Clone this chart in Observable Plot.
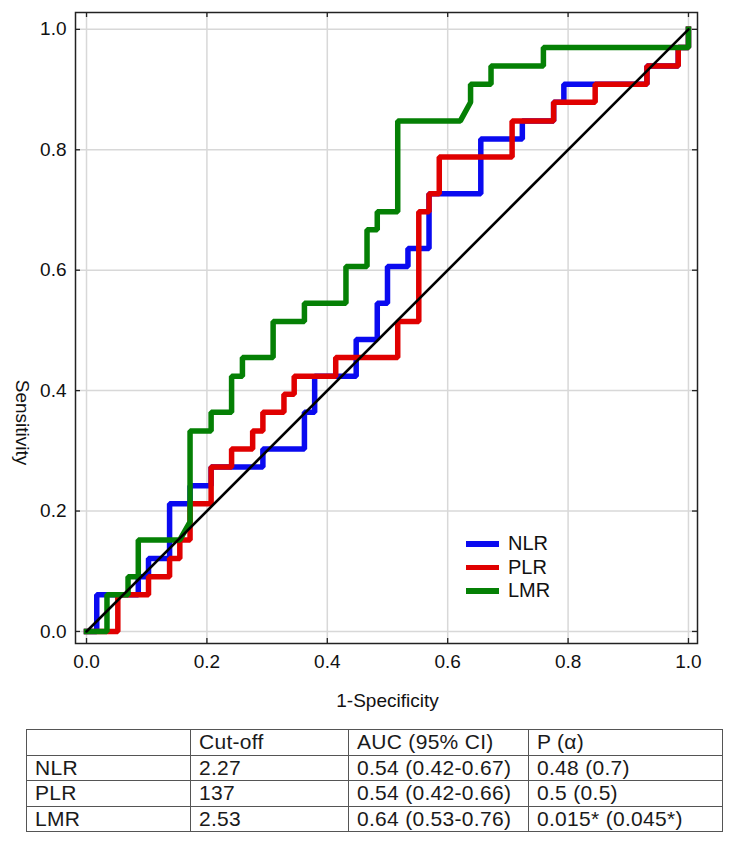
<!DOCTYPE html>
<html>
<head>
<meta charset="utf-8">
<script src="https://cdn.jsdelivr.net/npm/d3@7"></script>
<script src="https://cdn.jsdelivr.net/npm/@observablehq/plot@0.6"></script>
<style>
  html, body { margin: 0; padding: 0; background: #fff; }
  body { font-family: Arial, "Liberation Sans", sans-serif; }
  #wrap { position: relative; width: 736px; height: 844px; overflow: hidden; }
  #chart { position: absolute; left: 0; top: 0; }
  #legend { position: absolute; left: 466px; top: 532px; font-size: 20px; color: #111; }
  #legend .row { display: flex; align-items: center; height: 23.5px; }
  #legend .sw { width: 33px; height: 5.5px; margin-right: 9px; }
  #tbl { position: absolute; left: 26px; top: 729px; border-collapse: collapse; width: 696px;
         font-size: 21px; letter-spacing: 0.3px; color: #1a1a1a; table-layout: fixed; }
  #tbl td { border: 1px solid #555; height: 24.6px; padding: 0 0 0 8px; line-height: 22px; white-space: nowrap; overflow: visible; }
</style>
</head>
<body>
<div id="wrap">
  <div id="chart"></div>
  <div id="legend"></div>
  <table id="tbl"></table>
</div>
<script>
// ---- ROC curve vertices (1-Specificity, Sensitivity) ----
const nlrFpr = [0,0.017,0.017,0.086,0.086,0.103,0.103,0.138,0.138,0.172,0.172,0.207,0.207,0.293,0.293,0.362,0.362,0.379,0.379,0.448,0.448,0.483,0.483,0.5,0.5,0.534,0.534,0.569,0.569,0.655,0.655,0.724,0.724,0.776,0.776,0.793,0.793,0.931,0.931,0.983,0.983,1,1];
const nlrTpr = [0,0,0.061,0.061,0.091,0.091,0.121,0.121,0.212,0.212,0.242,0.242,0.273,0.273,0.303,0.303,0.364,0.364,0.424,0.424,0.485,0.485,0.545,0.545,0.606,0.606,0.636,0.636,0.727,0.727,0.818,0.818,0.848,0.848,0.879,0.879,0.909,0.909,0.939,0.939,0.970,0.970,1];

const plrFpr = [0,0.052,0.052,0.103,0.103,0.138,0.138,0.155,0.155,0.172,0.172,0.207,0.207,0.241,0.241,0.276,0.276,0.293,0.293,0.328,0.328,0.345,0.345,0.414,0.414,0.517,0.517,0.552,0.552,0.569,0.569,0.586,0.586,0.707,0.707,0.776,0.776,0.845,0.845,0.931,0.931,0.983,0.983,1,1];
const plrTpr = [0,0,0.061,0.061,0.091,0.091,0.121,0.121,0.152,0.152,0.212,0.212,0.273,0.273,0.303,0.303,0.333,0.333,0.364,0.364,0.394,0.394,0.424,0.424,0.455,0.455,0.515,0.515,0.697,0.697,0.727,0.727,0.788,0.788,0.848,0.848,0.879,0.879,0.909,0.909,0.939,0.939,0.970,0.970,1];

const lmrFpr = [0,0.034,0.034,0.069,0.069,0.086,0.086,0.155,0.172,0.172,0.207,0.207,0.241,0.241,0.259,0.259,0.310,0.310,0.362,0.362,0.431,0.431,0.466,0.466,0.483,0.483,0.517,0.517,0.621,0.638,0.638,0.672,0.672,0.759,0.759,1,1];
const lmrTpr = [0,0,0.061,0.061,0.091,0.091,0.152,0.152,0.182,0.333,0.333,0.364,0.364,0.424,0.424,0.455,0.455,0.515,0.515,0.545,0.545,0.606,0.606,0.667,0.667,0.697,0.697,0.848,0.848,0.879,0.909,0.909,0.939,0.939,0.970,0.970,1];

const refLine = [0, 1];
const seriesNames = ["NLR", "PLR", "LMR"];
const seriesColors = ["#0a0af0", "#e00000", "#058005"];
const axisTicks = [0, 0.2, 0.4, 0.6, 0.8, 1.0];
const xTitle = "1-Specificity";
const yTitle = "Sensitivity";

// ---- table ----
const tableHeader = ["", "Cut-off", "AUC (95% CI)", "P (\u03b1)"];
const cutOffs = ["2.27", "137", "2.53"];
const aucCI = ["0.54 (0.42-0.67)", "0.54 (0.42-0.66)", "0.64 (0.53-0.76)"];
const pValues = ["0.48 (0.7)", "0.5 (0.5)", "0.015* (0.045*)"];

const toPts = (xs, ys) => xs.map((x, i) => ({x, y: ys[i]}));
const curves = [toPts(nlrFpr, nlrTpr), toPts(plrFpr, plrTpr), toPts(lmrFpr, lmrTpr)];

const W = 736, H = 718, mL = 75, mR = 39, mT = 12, mB = 75;
const frameH = H - mT - mB, frameW = W - mL - mR;

const lineStyle = {x: "x", y: "y", strokeWidth: 5.5, strokeLinejoin: "miter", strokeLinecap: "square"};

const chart = Plot.plot({
  width: W, height: H,
  marginLeft: mL, marginRight: mR, marginTop: mT, marginBottom: mB,
  style: {fontFamily: "Arial, 'Liberation Sans', sans-serif", background: "#fff"},
  x: {domain: [-0.0183, 1.015], axis: null},
  y: {domain: [-0.02, 1.028], axis: null},
  marks: [
    Plot.ruleX(axisTicks, {stroke: "#d8d8d8", strokeWidth: 1.5}),
    Plot.ruleY(axisTicks, {stroke: "#d8d8d8", strokeWidth: 1.5}),
    // inward tick marks on all four sides
    Plot.tickX(axisTicks, {x: d => d, insetTop: frameH - 5, stroke: "#222", strokeWidth: 1.3}),
    Plot.tickX(axisTicks, {x: d => d, insetBottom: frameH - 5, stroke: "#222", strokeWidth: 1.3}),
    Plot.tickY(axisTicks, {y: d => d, insetRight: frameW - 5, stroke: "#222", strokeWidth: 1.3}),
    Plot.tickY(axisTicks, {y: d => d, insetLeft: frameW - 5, stroke: "#222", strokeWidth: 1.3}),
    Plot.line(curves[0], {...lineStyle, stroke: seriesColors[0]}),
    Plot.line(curves[1], {...lineStyle, stroke: seriesColors[1]}),
    Plot.line(curves[2], {...lineStyle, stroke: seriesColors[2]}),
    Plot.line(refLine, {x: d => d, y: d => d, stroke: "#000", strokeWidth: 2.6}),
    Plot.frame({stroke: "#222", strokeWidth: 1.5}),
    Plot.axisX(axisTicks, {tickSize: 0, tickPadding: 11, tickFormat: d3.format(".1f"), fontSize: 19, label: null, fill: "#111"}),
    Plot.axisY(axisTicks, {tickSize: 0, tickPadding: 9, tickFormat: d3.format(".1f"), fontSize: 19, label: null, fill: "#111"}),
    Plot.text([xTitle], {x: 0.5, frameAnchor: "bottom", dy: 63, text: d => d, fontSize: 19, fill: "#111"}),
    Plot.text([yTitle], {y: 0.347, frameAnchor: "left", dx: -53, rotate: 90, textAnchor: "middle", text: d => d, fontSize: 19, fill: "#111"})
  ]
});
document.getElementById("chart").appendChild(chart);

// legend
const legend = d3.select("#legend");
seriesNames.forEach((name, i) => {
  const row = legend.append("div").attr("class", "row");
  row.append("div").attr("class", "sw").style("background", seriesColors[i]);
  row.append("span").text(name);
});

// table
const tbl = d3.select("#tbl");
const colW = [164, 158, 180, 194];
const hr = tbl.append("tr");
tableHeader.forEach((h, j) => hr.append("td").style("width", (colW[j] - 9) + "px").text(h));
seriesNames.forEach((name, i) => {
  const tr = tbl.append("tr");
  [name, cutOffs[i], aucCI[i], pValues[i]].forEach(v => tr.append("td").text(v));
});
</script>
</body>
</html>
